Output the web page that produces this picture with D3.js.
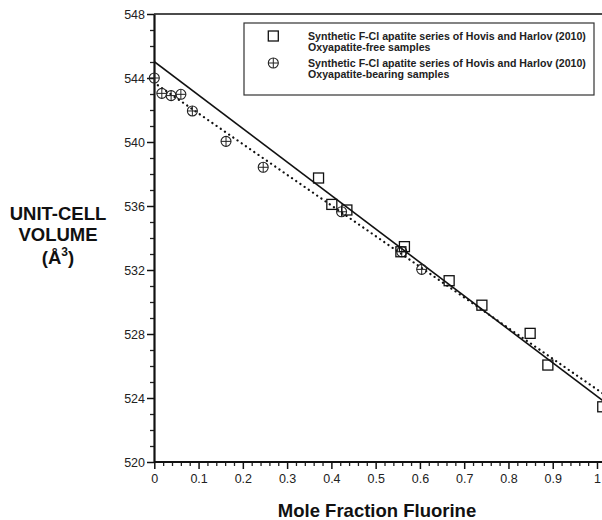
<!DOCTYPE html>
<html><head><meta charset="utf-8">
<script src="https://cdn.jsdelivr.net/npm/d3@7"></script>
<style>body{margin:0;background:#fff;} text{font-family:"Liberation Sans",Arial,sans-serif;}</style>
</head><body>
<svg id="c" width="602" height="520"></svg>
<script>
// Data
const freeX = [0.371, 0.401, 0.435, 0.557, 0.565, 0.666, 0.740, 0.849, 0.889, 1.013];
const freeY = [537.75, 536.10, 535.75, 533.14, 533.46, 531.33, 529.80, 528.04, 526.06, 523.45];
const bearX = [0.000, 0.017, 0.038, 0.060, 0.086, 0.162, 0.246, 0.423, 0.559, 0.604];
const bearY = [544.00, 543.04, 542.90, 542.98, 541.94, 540.04, 538.42, 535.64, 533.14, 532.04];
const fitFreeX = [0, 1.015];
const fitFreeY = [545.02, 523.8];
const fitBearX = [0.008, 1.015];
const fitBearY = [543.55, 524.25];
const xTicks = [0, 0.1, 0.2, 0.3, 0.4, 0.5, 0.6, 0.7, 0.8, 0.9, 1];
const yTicks = [520, 524, 528, 532, 536, 540, 544, 548];
const legendLabels = [["Synthetic F-Cl apatite series of Hovis and Harlov (2010)", "Oxyapatite-free samples"],
                      ["Synthetic F-Cl apatite series of Hovis and Harlov (2010)", "Oxyapatite-bearing samples"]];

const svg = d3.select("#c");
const x = d3.scaleLinear().domain([0, 1]).range([154.3, 597]);
const y = d3.scaleLinear().domain([520, 548]).range([462, 14]);

// clip
svg.append("clipPath").attr("id", "clip").append("rect").attr("x", 154).attr("y", 14).attr("width", 448).attr("height", 448);

// lines
const line = d3.line().x(d => x(d[0])).y(d => y(d[1]));
const g = svg.append("g").attr("clip-path", "url(#clip)");
g.append("path").datum(d3.zip(fitFreeX, fitFreeY)).attr("d", line)
  .attr("fill", "none").attr("stroke", "#111").attr("stroke-width", 1.6);
g.append("path").datum(d3.zip(fitBearX, fitBearY)).attr("d", line)
  .attr("fill", "none").attr("stroke", "#111").attr("stroke-width", 2.2)
  .attr("stroke-dasharray", "0.1,5").attr("stroke-linecap", "round");

// axes
const minorY = d3.range(520, 548.01, 1).filter(v => v % 4 !== 0);
const minorX = d3.range(0, 1.001, 0.02).filter((v, i) => i % 5 !== 0);
svg.append("g").attr("transform", "translate(154,0)")
  .call(d3.axisLeft(y).tickValues(minorY).tickSize(4).tickFormat(""))
  .call(s => s.select(".domain").remove())
  .selectAll("line").attr("stroke", "#222").attr("stroke-width", 1.3);
svg.append("g").attr("transform", "translate(0,462)")
  .call(d3.axisBottom(x).tickValues(minorX).tickSize(4).tickFormat(""))
  .call(s => s.select(".domain").remove())
  .selectAll("line").attr("stroke", "#222").attr("stroke-width", 1.3);

const ya = svg.append("g").attr("transform", "translate(154,0)")
  .call(d3.axisLeft(y).tickValues(yTicks).tickSize(7).tickSizeOuter(0).tickPadding(2).tickFormat(d3.format("d")));
ya.select(".domain").attr("stroke", "#111").attr("stroke-width", 2.2);
ya.selectAll(".tick line").attr("stroke", "#111").attr("stroke-width", 1.5);
ya.selectAll(".tick text").attr("font-size", 12.5).attr("fill", "#222").attr("font-family", "Liberation Sans, Arial, sans-serif");

const xa = svg.append("g").attr("transform", "translate(0,462)")
  .call(d3.axisBottom(x).tickValues(xTicks).tickSize(7).tickSizeOuter(0).tickPadding(5).tickFormat(d => d === 0 || d === 1 ? String(d) : d3.format(".1f")(d)));
xa.select(".domain").attr("stroke", "#111").attr("stroke-width", 2.2).attr("d", "M154.3,0H602");
xa.selectAll(".tick line").attr("stroke", "#111").attr("stroke-width", 1.5);
xa.selectAll(".tick text").attr("font-size", 12.5).attr("fill", "#222").attr("font-family", "Liberation Sans, Arial, sans-serif");

// top frame line
svg.append("line").attr("x1", 154).attr("x2", 602).attr("y1", y(548)).attr("y2", y(548)).attr("stroke", "#111").attr("stroke-width", 1.6);

// markers
function square(sel, cx, cy) {
  sel.append("rect").attr("x", cx - 5).attr("y", cy - 5).attr("width", 10).attr("height", 10)
    .attr("fill", "none").attr("stroke", "#111").attr("stroke-width", 1.3);
}
function circPlus(sel, cx, cy) {
  sel.append("circle").attr("cx", cx).attr("cy", cy).attr("r", 5).attr("fill", "none").attr("stroke", "#222").attr("stroke-width", 1.1);
  sel.append("path").attr("d", `M${cx-5},${cy}H${cx+5}M${cx},${cy-5}V${cy+5}`).attr("stroke", "#222").attr("stroke-width", 1);
}
const mk = svg.append("g");
bearX.forEach((v, i) => circPlus(mk, x(v), y(bearY[i])));
freeX.forEach((v, i) => square(mk, x(v), y(freeY[i])));

// legend
const lg = svg.append("g");
lg.append("rect").attr("x", 244).attr("y", 23).attr("width", 350).attr("height", 72)
  .attr("fill", "#fff").attr("stroke", "#333").attr("stroke-width", 1.2);
square(lg, 273.3, 36);
circPlus(lg, 273.3, 63);
const ly = [[40, 51], [67, 78]];
legendLabels.forEach((ls, i) => {
  ls.forEach((t, j) => {
    lg.append("text").attr("x", 308).attr("y", ly[i][j]).attr("font-size", 10.6).attr("font-weight", "bold")
      .attr("fill", "#222").text(t);
  });
});

// titles
const yt = svg.append("text").attr("text-anchor", "middle").attr("font-size", 18.5).attr("font-weight", "bold").attr("fill", "#111");
yt.append("tspan").attr("x", 58).attr("y", 220).text("UNIT-CELL");
yt.append("tspan").attr("x", 58).attr("y", 241).text("VOLUME");
const t3 = yt.append("tspan").attr("x", 58).attr("y", 264).text("(Å");
t3.append("tspan").attr("font-size", 12).attr("dy", -8).text("3");
yt.append("tspan").attr("dy", 8).text(")");

svg.append("text").attr("x", 377).attr("y", 517).attr("text-anchor", "middle").attr("font-size", 18.5)
  .attr("font-weight", "bold").attr("fill", "#111").text("Mole Fraction Fluorine");
</script>
</body></html>
